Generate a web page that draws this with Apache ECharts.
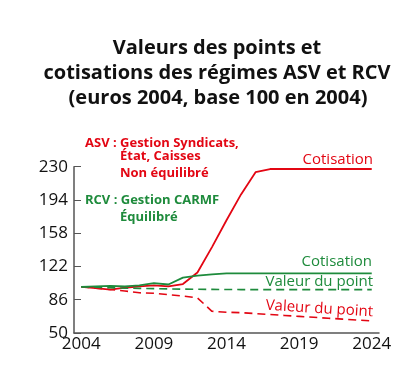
<!DOCTYPE html>
<html>
<head>
<meta charset="utf-8">
<script src="https://cdn.jsdelivr.net/npm/echarts@6/dist/echarts.min.js"></script>
<style>
  html, body { margin: 0; padding: 0; background: #fff; }
  #chart { width: 400px; height: 376px; }
</style>
</head>
<body>
<div id="chart"></div>
<script>
const years = ["2004", "2005", "2006", "2007", "2008", "2009", "2010", "2011", "2012", "2013", "2014",
  "2015", "2016", "2017", "2018", "2019", "2020", "2021", "2022", "2023", "2024"];
const yTicks = [50, 86, 122, 158, 194, 230];

// ASV (rouge)
const asvCotisation = [100, 98.5, 97, 99, 100.5, 101.5, 100.5, 103, 115.5, 143, 172, 200, 224, 227.5,
  227.5, 227.5, 227.5, 227.5, 227.5, 227.5, 227.5];
const asvPoint = [100, 98.5, 97, 95.5, 93.5, 93, 91.5, 90, 88, 73.5, 72.5, 72, 71, 70, 69, 68, 67, 66,
  65, 64, 63];
// RCV (vert)
const rcvCotisation = [100, 100.5, 101, 100.5, 101.5, 104, 102.5, 110, 112, 113.5, 114.5, 114.5, 114.5,
  114.5, 114.5, 114.5, 114.5, 114.5, 114.5, 114.5, 114.5];
const rcvPoint = [100, 99.5, 99, 98.5, 98.3, 98, 97.7, 97.5, 97.3, 97.2, 97.1, 97, 97, 97, 97, 97, 97,
  97, 97, 97, 97];

const RED = "#e30613";
const GREEN = "#1e8b3c";
const font = "'Open Sans', sans-serif";

const chart = echarts.init(document.getElementById("chart"));

function txt(x, y, text, color, opts) {
  return {
    type: "text",
    x: x,
    y: y,
    rotation: (opts && opts.rotation) || 0,
    style: {
      text: text,
      fill: color,
      font: (opts && opts.font) || "bold 13px " + font,
      textAlign: (opts && opts.align) || "left",
      textVerticalAlign: "middle",
    },
  };
}

const titleFont = "bold 20px " + font;
const labelFont = "15px " + font;

chart.setOption({
  animation: false,
  grid: { left: 74, right: 21, top: 166.7, bottom: 43 },
  xAxis: {
    type: "category",
    data: years,
    boundaryGap: true,
    axisLine: { lineStyle: { color: "#555", width: 1.5 } },
    axisTick: { inside: true, length: 3, alignWithLabel: true, interval: 0, lineStyle: { color: "#555" } },
    axisLabel: { interval: 4, color: "#111", fontSize: 17, fontFamily: font, margin: 3 },
  },
  yAxis: {
    type: "value",
    min: 50,
    max: 230,
    splitLine: { show: false },
    axisLine: { show: true, lineStyle: { color: "#555", width: 1.5 } },
    axisTick: { show: true, inside: true, length: 7, customValues: yTicks, lineStyle: { color: "#555" } },
    axisLabel: { customValues: yTicks, color: "#111", fontSize: 17, fontFamily: font, margin: 6 },
  },
  series: [
    { type: "line", data: asvCotisation, symbol: "none", lineStyle: { color: RED, width: 1.8 } },
    { type: "line", data: asvPoint, symbol: "none", lineStyle: { color: RED, width: 1.6, type: [8, 5] } },
    { type: "line", data: rcvCotisation, symbol: "none", lineStyle: { color: GREEN, width: 1.8 } },
    { type: "line", data: rcvPoint, symbol: "none", lineStyle: { color: GREEN, width: 1.6, type: [8, 5] } },
  ],
  graphic: [
    txt(217, 48, "Valeurs des points et", "#111", { font: titleFont, align: "center" }),
    txt(217, 73, "cotisations des régimes ASV et RCV", "#111", { font: titleFont, align: "center" }),
    txt(218, 98, "(euros 2004, base 100 en 2004)", "#111", { font: titleFont, align: "center" }),

    txt(85, 143, "ASV : Gestion Syndicats,", RED),
    txt(120, 156, "État, Caisses", RED),
    txt(120, 173, "Non équilibré", RED),
    txt(85, 200, "RCV : Gestion CARMF", GREEN),
    txt(120, 217, "Équilibré", GREEN),

    txt(373, 160, "Cotisation", RED, { font: labelFont, align: "right" }),
    txt(372, 262, "Cotisation", GREEN, { font: labelFont, align: "right" }),
    txt(373, 282, "Valeur du point", GREEN, { font: labelFont, align: "right" }),
    txt(373, 312, "Valeur du point", RED, { font: labelFont, align: "right", rotation: -0.06 }),
  ],
});
</script>
</body>
</html>
